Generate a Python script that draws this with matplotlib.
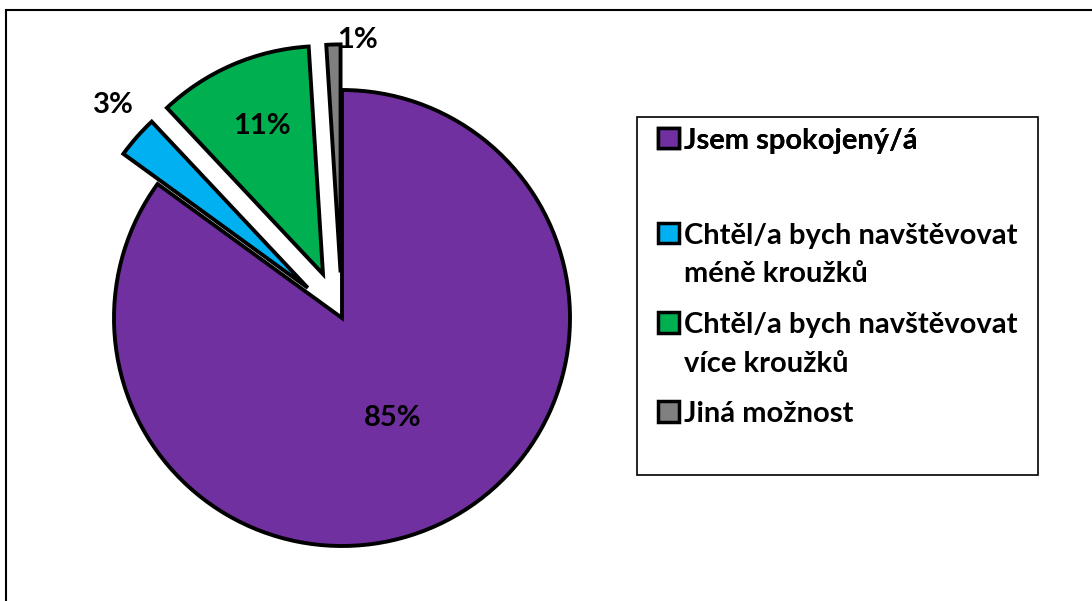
import matplotlib
matplotlib.use("Agg")
import matplotlib.pyplot as plt
from matplotlib.patches import Rectangle
import numpy as np

labels = ["Jsem spokojený/á", "Chtěl/a bych navštěvovat\nméně kroužků",
          "Chtěl/a bych navštěvovat\nvíce kroužků", "Jiná možnost"]
values = [85, 3, 11, 1]
colors = ["#7030A0", "#00B0F0", "#00B050", "#808080"]
explode = [0, 0.2, 0.21, 0.2]
# where the percentage labels sit (radius from the pie centre, angle tweak)
label_r = [0.49, 1.37, 0.91, 1.22]
label_dang = [0, -1.5, -0.8, -5.0]

plt.rcParams["font.family"] = ["Lato", "DejaVu Sans"]
W, H = 1092, 601
cx, cy, R = 342, 318, 228

fig = plt.figure(figsize=(W / 100, H / 100), dpi=100)
ax = fig.add_axes([0, 0, 1, 1])

wedges, _ = ax.pie(values, colors=colors, explode=explode, startangle=90,
                   counterclock=False, radius=1,
                   wedgeprops=dict(edgecolor="black", linewidth=2.8, joinstyle="miter"))
ax.set_xlim(-cx / R, (W - cx) / R)
ax.set_ylim(-(H - cy) / R, cy / R)
ax.set_aspect("equal")
ax.axis("off")

for w, v, r, da in zip(wedges, values, label_r, label_dang):
    a = np.deg2rad((w.theta1 + w.theta2) / 2 + da)
    ax.text(r * np.cos(a), r * np.sin(a), f"{v}%", ha="center", va="center",
            fontsize=21, fontweight="bold", color="black")

# outer chart frame
fig.patches.append(Rectangle((6 / W, -0.1), 1.2, 1 - 10 / H + 0.1, transform=fig.transFigure,
                             fill=False, edgecolor="black", linewidth=1.5))
# legend box
fig.patches.append(Rectangle((637 / W, 1 - 475 / H), 401 / W, 358 / H, transform=fig.transFigure,
                             fill=False, edgecolor="black", linewidth=1.2))

leg_kw = dict(loc="upper left", frameon=False, prop=dict(size=21, weight="bold"),
              handlelength=0.72, handleheight=0.72, handletextpad=0.2,
              labelspacing=0.85, borderpad=0)
leg1 = fig.legend(wedges[:1], labels[:1], bbox_to_anchor=(643 / W, 1 - 113 / H), **leg_kw)
leg2 = fig.legend(wedges[1:], labels[1:], bbox_to_anchor=(643 / W, 1 - 208 / H), **leg_kw)
fig.add_artist(leg1)
for leg in (leg1, leg2):
    for h in leg.legend_handles:
        h.set_linewidth(2.5)
    for t in leg.get_texts():
        t.set_linespacing(1.6)
    # keep the square marker next to the first line of a wrapped label
    for col in leg._legend_handle_box.get_children():
        for item in col.get_children():
            item.align = "top"
        
fig.savefig("out.png", dpi=100)
